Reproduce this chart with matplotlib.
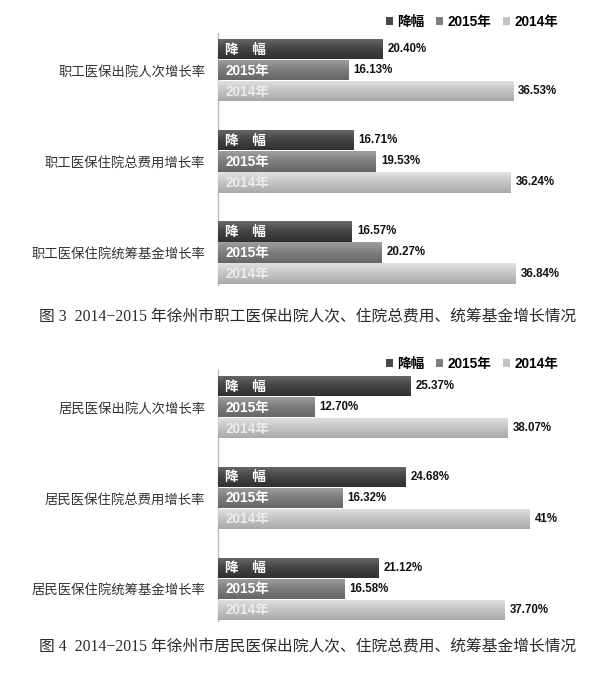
import matplotlib
matplotlib.use("Agg")
import matplotlib.pyplot as plt
import numpy as np
from matplotlib.patches import Patch
from matplotlib.colors import LinearSegmentedColormap

# ---------------- data ----------------
series_names = ["降幅", "2015年", "2014年"]
bar_inner_labels = ["降　幅", "2015年", "2014年"]

cats_1 = ["职工医保出院人次增长率", "职工医保住院总费用增长率", "职工医保住院统筹基金增长率"]
drop_1 = [20.40, 16.71, 16.57]
y2015_1 = [16.13, 19.53, 20.27]
y2014_1 = [36.53, 36.24, 36.84]

cats_2 = ["居民医保出院人次增长率", "居民医保住院总费用增长率", "居民医保住院统筹基金增长率"]
drop_2 = [25.37, 24.68, 21.12]
y2015_2 = [12.70, 16.32, 16.58]
y2014_2 = [38.07, 41, 37.70]

caption_1 = "图 3  2014−2015 年徐州市职工医保出院人次、住院总费用、统筹基金增长情况"
caption_2 = "图 4  2014−2015 年徐州市居民医保出院人次、住院总费用、统筹基金增长情况"

# ---------------- style ----------------
W, H = 600, 681
base_colors = ["#474747", "#7e7e7e", "#c2c2c2"]
grad_colors = [("#6a6a6a", "#444444", "#303030"),
               ("#a0a0a0", "#7c7c7c", "#666666"),
               ("#e2e2e2", "#c4c4c4", "#a9a9a9")]
inner_text_colors = ["white", "white", "#ececec"]

CJK = "Noto Sans CJK SC"
NUM_BOLD = ["Liberation Sans Narrow", "Liberation Sans", CJK]
LAB_BOLD = ["Liberation Sans", CJK]

fig = plt.figure(figsize=(W / 100, H / 100), dpi=100)
fig.patch.set_facecolor("white")


def fmt(v):
    return f"{v}%" if isinstance(v, int) else f"{v:.2f}%"


def panel(top_px, bottom_px, px_per_pct, cats, series, legend_y_px, caption, caption_y_px):
    left_px = 218
    ax = fig.add_axes([left_px / W, 1 - bottom_px / H, (W - left_px) / W,
                       (bottom_px - top_px) / H])
    xmax = (W - left_px) / px_per_pct
    ylim = (2.357, -0.41)
    bh = 0.222
    step = 0.231
    idx = np.arange(len(cats))
    for j, vals in enumerate(series):
        ypos = idx + (j - 1) * step
        bars = ax.barh(ypos, vals, height=bh, color=base_colors[j], edgecolor="none", zorder=2)
        cmap = LinearSegmentedColormap.from_list(f"g{j}", grad_colors[j])
        grad = np.linspace(0, 1, 64).reshape(-1, 1)
        for b, v, yy in zip(bars, vals, ypos):
            x0, y0 = b.get_x(), b.get_y()
            im = ax.imshow(grad, cmap=cmap, aspect="auto",
                           extent=[x0, x0 + b.get_width(), y0 + b.get_height(), y0],
                           origin="upper", zorder=3, interpolation="bilinear")
            im.set_clip_path(b)
            ax.annotate(fmt(v), (v, yy), xytext=(5, 0), textcoords="offset pixels",
                        ha="left", va="center", fontsize=8.3, fontweight="bold",
                        family=NUM_BOLD, color="#111111", zorder=5)
            ax.annotate(bar_inner_labels[j], (0, yy), xytext=(7, -0.5), textcoords="offset pixels",
                        ha="left", va="center", fontsize=9.8, fontweight="bold",
                        family=LAB_BOLD if j else [CJK], color=inner_text_colors[j], zorder=5)
    ax.set_xlim(0, xmax)
    ax.set_ylim(*ylim)
    ax.set_yticks(idx)
    ax.set_yticklabels(cats, family=[CJK], fontsize=9.6, color="#333333")
    ax.tick_params(axis="y", length=0, pad=9)
    ax.set_xticks([])
    for s in ["top", "right", "bottom"]:
        ax.spines[s].set_visible(False)
    ax.spines["left"].set_color("#bdbdbd")
    ax.spines["left"].set_linewidth(1.0)
    ax.set_facecolor("none")

    handles = [Patch(facecolor=c, edgecolor="none") for c in base_colors]
    ax.legend(handles, series_names, loc="center right",
              bbox_to_anchor=(558 / W, 1 - legend_y_px / H), bbox_transform=fig.transFigure,
              ncol=3, frameon=False, handlelength=0.5, handleheight=0.5,
              handletextpad=0.3, columnspacing=0.9, borderpad=0, borderaxespad=0,
              prop={"family": LAB_BOLD, "weight": "bold", "size": 9.8})
    fig.text(39 / W, 1 - caption_y_px / H, caption, ha="left", va="center",
             family=["Liberation Serif", CJK], fontsize=11.3, color="#2a2a2a")
    return ax


panel(33, 285, 8.08, cats_1, [drop_1, y2015_1, y2014_1], 22, caption_1, 317)
panel(370, 621, 7.6, cats_2, [drop_2, y2015_2, y2014_2], 364, caption_2, 647)

fig.savefig("out.png", dpi=100, facecolor="white")
